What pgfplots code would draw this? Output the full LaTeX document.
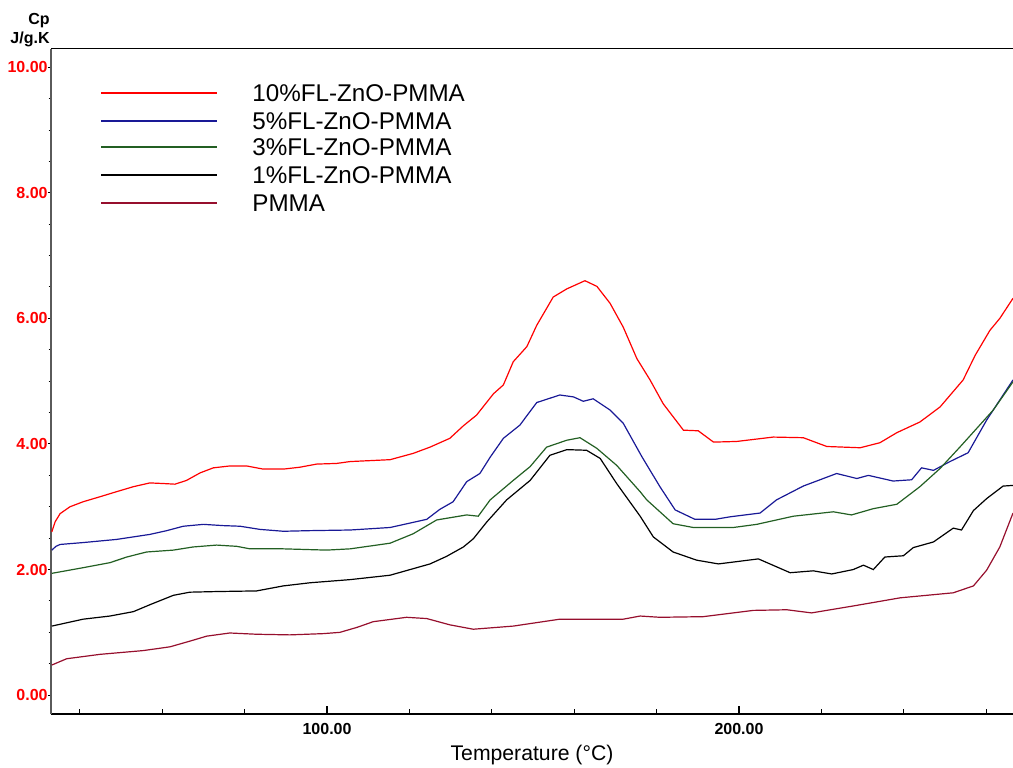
\documentclass[border=0pt]{standalone}
\usepackage{pgfplots}
\pgfplotsset{compat=1.18}
\usepackage{fontspec}
\setmainfont{Liberation Sans}

\definecolor{colTen}{RGB}{255,0,0}
\definecolor{colFive}{RGB}{25,25,150}
\definecolor{colThree}{RGB}{35,95,35}
\definecolor{colOne}{RGB}{0,0,0}
\definecolor{colPm}{RGB}{150,15,45}
\definecolor{axgray}{RGB}{90,90,90}

\begin{document}
\begin{tikzpicture}
\useasboundingbox (-25.5pt,-26.5pt) rectangle (481pt,357pt);
\begin{axis}[
    at={(0,0)}, anchor=south west,
    scale only axis, width=481pt, height=332.5pt,
    xmin=33, xmax=266.5, ymin=-0.3, ymax=10.29,
    axis x line*=bottom, axis y line*=left,
    x axis line style={black, line width=0.7pt},
    y axis line style={axgray, line width=1pt},
    tick align=outside,
    major tick length=1.5pt, minor tick length=1.2pt,
    xtick={100,200}, x tick style={draw=none},
    ytick={0,2,4,6,8,10}, minor y tick num=3,
    y tick style={black, line width=0.5pt},
    xticklabel={\pgfmathprintnumber[fixed,fixed zerofill,precision=2,assume math mode=true]{\tick}},
    yticklabel={\pgfmathprintnumber[fixed,fixed zerofill,precision=2,assume math mode=true]{\tick}},
    xticklabel style={font=\bfseries\fontsize{8}{9}\selectfont, inner sep=0pt, yshift=-3.1pt},
    yticklabel style={font=\bfseries\fontsize{8}{9}\selectfont, text=red, inner sep=0pt},
    xlabel={Temperature (°C)},
    xlabel style={font=\fontsize{10.6}{12}\selectfont, at={(axis description cs:0.5,0)}, anchor=center, yshift=-20.5pt},
    every axis plot/.append style={line width=0.6pt, mark=none},
]

% 10% FL-ZnO-PMMA
\addplot[draw=colTen] coordinates {
(33.2,2.60) (34.0,2.76) (35.2,2.89) (37.6,3.00) (40.8,3.08) (44.9,3.16) (48.9,3.24)
(53.0,3.32) (57.0,3.38) (60.3,3.37) (63.1,3.36) (65.9,3.42) (69.2,3.54) (72.4,3.62)
(76.4,3.65) (80.5,3.65) (84.5,3.60) (89.4,3.60) (93.4,3.63) (97.5,3.68) (102.3,3.69)
(105.6,3.72) (115.3,3.75) (120.9,3.85) (125.0,3.95) (129.8,4.09) (133.1,4.29) (136.3,4.46)
(140.4,4.80) (142.8,4.94) (145.2,5.31) (148.5,5.55) (150.9,5.89) (154.9,6.34) (158.2,6.47)
(162.6,6.60) (165.5,6.51) (168.7,6.24) (171.9,5.86) (175.2,5.36) (178.4,5.02) (181.6,4.64)
(186.5,4.22) (190.1,4.21) (193.8,4.03) (199.4,4.04) (208.3,4.11) (215.6,4.10) (221.3,3.96)
(229.4,3.94) (234.2,4.02) (238.3,4.18) (243.9,4.35) (248.8,4.59) (254.4,5.02) (257.3,5.41)
(260.9,5.81) (263.3,6.00) (266.5,6.32)
};

% 5% FL-ZnO-PMMA
\addplot[draw=colFive] coordinates {
(33.2,2.31) (34.2,2.37) (35.2,2.40) (40.8,2.43) (48.9,2.48) (57.0,2.56) (61.1,2.62)
(65.1,2.69) (70.0,2.72) (74.8,2.70) (78.9,2.69) (83.7,2.64) (89.4,2.61) (95.9,2.62)
(105.6,2.63) (115.3,2.67) (124.2,2.80) (127.4,2.96) (130.6,3.08) (133.9,3.40) (137.1,3.53)
(139.6,3.79) (142.8,4.09) (146.8,4.30) (150.9,4.66) (156.5,4.78) (159.8,4.75) (162.2,4.68)
(164.6,4.72) (168.7,4.54) (171.9,4.33) (176.4,3.80) (180.8,3.32) (184.5,2.95) (189.3,2.80)
(194.2,2.80) (197.8,2.84) (205.1,2.90) (209.1,3.11) (215.6,3.33) (223.7,3.53) (228.6,3.45)
(231.4,3.50) (237.4,3.41) (241.9,3.43) (244.3,3.62) (247.2,3.58) (251.2,3.72) (255.6,3.86)
(260.1,4.38) (266.5,5.02)
};

% 3% FL-ZnO-PMMA
\addplot[draw=colThree] coordinates {
(33.2,1.94) (40.8,2.03) (47.3,2.11) (51.4,2.20) (56.2,2.28) (62.7,2.31) (67.5,2.36)
(73.2,2.39) (78.1,2.37) (81.3,2.33) (89.4,2.33) (99.9,2.31) (105.6,2.33) (115.3,2.42)
(120.9,2.57) (126.6,2.79) (133.9,2.87) (136.7,2.85) (139.6,3.11) (145.2,3.42) (149.3,3.64)
(153.3,3.95) (158.2,4.06) (161.4,4.10) (165.5,3.93) (170.3,3.66) (176.0,3.24) (177.6,3.11)
(184.0,2.73) (188.9,2.67) (198.6,2.67) (204.3,2.72) (213.2,2.85) (222.9,2.92) (227.3,2.87)
(232.6,2.97) (238.3,3.04) (243.9,3.32) (248.8,3.61) (253.6,3.95) (256.9,4.19) (261.7,4.54)
(266.5,4.99)
};

% 1% FL-ZnO-PMMA
\addplot[draw=colOne] coordinates {
(33.2,1.10) (40.8,1.21) (47.3,1.26) (53.0,1.33) (57.0,1.44) (62.7,1.59) (66.7,1.64)
(73.2,1.65) (82.9,1.66) (89.4,1.74) (95.9,1.79) (105.6,1.84) (115.3,1.91) (125.0,2.09)
(129.0,2.21) (133.1,2.36) (135.5,2.49) (138.8,2.76) (143.6,3.11) (149.3,3.42) (154.1,3.82)
(158.2,3.91) (163.0,3.90) (166.3,3.77) (170.3,3.37) (176.0,2.85) (179.2,2.52) (184.0,2.28)
(189.7,2.15) (195.0,2.09) (204.7,2.17) (212.4,1.95) (218.0,1.98) (222.5,1.93) (227.7,2.00)
(230.2,2.07) (232.6,2.00) (235.4,2.20) (239.9,2.22) (242.3,2.35) (247.2,2.44) (252.0,2.66)
(254.0,2.63) (256.9,2.94) (260.1,3.13) (264.1,3.33) (266.5,3.34)
};

% PMMA
\addplot[draw=colPm] coordinates {
(33.2,0.48) (36.8,0.58) (44.9,0.65) (55.4,0.71) (61.9,0.77) (66.7,0.86) (70.8,0.94)
(76.4,0.99) (82.9,0.97) (91.0,0.96) (99.1,0.98) (103.1,1.00) (107.3,1.08) (111.2,1.17)
(119.3,1.24) (124.2,1.22) (129.8,1.12) (135.5,1.05) (145.2,1.10) (156.5,1.21) (171.9,1.21)
(176.0,1.26) (180.8,1.24) (191.3,1.25) (203.5,1.35) (211.6,1.36) (217.6,1.31) (227.7,1.42)
(239.1,1.55) (252.0,1.63) (256.9,1.74) (260.1,1.99) (263.3,2.36) (266.5,2.90)
};

% x ticks pointing inward
\pgfplotsinvokeforeach{40,60,80,120,140,160,180,220,240,260}{
  \draw[black, line width=0.5pt] (axis cs:#1,-0.3) -- ++(0pt,2.5pt);
}
\pgfplotsinvokeforeach{100,200}{
  \draw[black, line width=0.6pt] (axis cs:#1,-0.3) -- ++(0pt,4pt);
}
\end{axis}

% legend (axis box: 0..481pt wide, 0..332.5pt high)
\draw[draw=colTen,   line width=0.6pt] (25pt,310.5pt) -- (83pt,310.5pt);
\draw[draw=colFive,  line width=0.6pt] (25pt,296.5pt) -- (83pt,296.5pt);
\draw[draw=colThree, line width=0.6pt] (25pt,283.5pt) -- (83pt,283.5pt);
\draw[draw=colOne,   line width=0.6pt] (25pt,269.5pt) -- (83pt,269.5pt);
\draw[draw=colPm,    line width=0.6pt] (25pt,255.5pt) -- (83pt,255.5pt);
\begin{scope}[every node/.style={anchor=west, inner sep=0pt, font=\fontsize{12.1}{14}\selectfont}]
\node at (100.5pt,310.5pt) {10\%FL-ZnO-PMMA};
\node at (100.5pt,296.5pt) {5\%FL-ZnO-PMMA};
\node at (100.5pt,283.5pt) {3\%FL-ZnO-PMMA};
\node at (100.5pt,269.5pt) {1\%FL-ZnO-PMMA};
\node at (100.5pt,255.5pt) {PMMA};
\end{scope}

% top frame line and unit label
\draw[black, line width=0.5pt] (0pt,332.5pt) -- (481pt,332.5pt);
\node[anchor=east, inner sep=0pt, font=\bfseries\fontsize{8}{9}\selectfont] at (-0.5pt,346.5pt) {Cp};
\node[anchor=east, inner sep=0pt, font=\bfseries\fontsize{8}{9}\selectfont] at (-0.5pt,337.5pt) {J/g.K};
\end{tikzpicture}
\end{document}
